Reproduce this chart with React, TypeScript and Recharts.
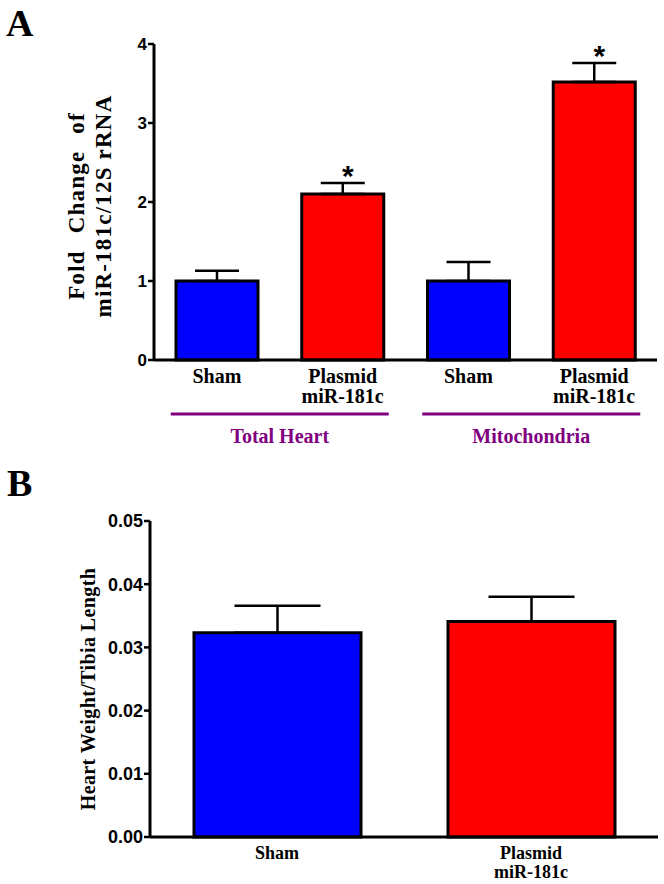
import { Bar, BarChart, Cell, ErrorBar, LabelList, XAxis, YAxis } from "recharts";

// panel A: fold change of miR-181c / 12S rRNA
const CATEGORIES_A = ["Sham", "Plasmid\nmiR-181c", "Sham", "Plasmid\nmiR-181c"];
const GROUPS_A = ["Total Heart", "Total Heart", "Mitochondria", "Mitochondria"];
const MEANS_A = [1.0, 2.1, 1.0, 3.52];
const ERRORS_A = [0.13, 0.14, 0.24, 0.24];
const SIG_A = ["", "*", "", "*"];
const TICKS_A = [0, 1, 2, 3, 4];

// panel B: heart weight / tibia length
const CATEGORIES_B = ["Sham", "Plasmid\nmiR-181c"];
const MEANS_B = [0.0323, 0.0341];
const ERRORS_B = [0.0043, 0.0039];
const TICKS_B = [0, 0.01, 0.02, 0.03, 0.04, 0.05];

const BAR_COLORS = ["#0000ff", "#ff0000"];
const PURPLE = "#800080";
const SERIF = "'Liberation Serif', 'Times New Roman', serif";
const SANS = "'Liberation Sans', Arial, sans-serif";

const dataA = CATEGORIES_A.map((name, i) => ({
  key: `${i}`,
  name,
  group: GROUPS_A[i],
  mean: MEANS_A[i],
  err: [0, ERRORS_A[i]],
  sig: SIG_A[i],
}));

const dataB = CATEGORIES_B.map((name, i) => ({
  key: `${i}`,
  name,
  mean: MEANS_B[i],
  err: [0, ERRORS_B[i]],
}));

function makeCatTick(labels: string[], fontSize: number, firstDy: number, lineGap: number) {
  return (props: any) => {
    const { x, y, index } = props;
    const lines = labels[index].split("\n");
    return (
      <text
        x={x}
        y={y}
        textAnchor="middle"
        fontFamily={SERIF}
        fontWeight="bold"
        fontSize={fontSize}
        fill="#000"
      >
        {lines.map((l, i) => (
          <tspan key={i} x={x} dy={i === 0 ? firstDy : lineGap}>
            {l}
          </tspan>
        ))}
      </text>
    );
  };
}

function GroupTick(props: any) {
  const { x, y, payload } = props;
  return (
    <g>
      <line x1={x - 109} x2={x + 109} y1={y + 4} y2={y + 4} stroke={PURPLE} strokeWidth={3} />
      <text
        x={x}
        y={y + 33}
        textAnchor="middle"
        fontFamily={SERIF}
        fontWeight="bold"
        fontSize={20}
        fill={PURPLE}
      >
        {payload.value}
      </text>
    </g>
  );
}

function FoldLabel(props: any) {
  const vb = props.viewBox;
  const cy = vb.y + vb.height / 2 + 4;
  const style = { fontFamily: SERIF, fontWeight: "bold" as const, fontSize: 23, letterSpacing: 1.2 };
  return (
    <g>
      <text
        transform={`translate(76, ${cy}) rotate(-90)`}
        textAnchor="middle"
        dominantBaseline="central"
        wordSpacing={10}
        style={style}
      >
        Fold Change of
      </text>
      <text
        transform={`translate(103, ${cy}) rotate(-90)`}
        textAnchor="middle"
        dominantBaseline="central"
        style={style}
      >
        miR-181c/12S rRNA
      </text>
    </g>
  );
}

function HwLabel(props: any) {
  const vb = props.viewBox;
  const cy = vb.y + vb.height / 2 + 10;
  return (
    <text
      transform={`translate(88, ${cy}) rotate(-90)`}
      textAnchor="middle"
      dominantBaseline="central"
      style={{ fontFamily: SERIF, fontWeight: "bold", fontSize: 20, letterSpacing: 0.4 }}
    >
      Heart Weight/Tibia Length
    </text>
  );
}

function Star(props: any) {
  const { x, y, width, height, index, value } = props;
  if (!value) return null;
  const d = dataA[index];
  const capY = Number(y) - (d.err[1] / d.mean) * Number(height);
  return (
    <text
      x={Number(x) + Number(width) / 2 + 5}
      y={capY + 3}
      textAnchor="middle"
      fontFamily={SANS}
      fontWeight="bold"
      fontSize={30}
      fill="#000"
    >
      {value}
    </text>
  );
}

const yTickA = { fontFamily: SANS, fontWeight: "bold", fontSize: 17, fill: "#000" };
const yTickB = { fontFamily: SANS, fontWeight: "bold", fontSize: 18, fill: "#000" };

function PanelLetter({ text, left, top }: { text: string; left: number; top: number }) {
  return (
    <svg width={40} height={44} style={{ position: "absolute", left, top }}>
      <text x={0} y={36} fontFamily={SERIF} fontWeight="bold" fontSize={38} fill="#000">
        {text}
      </text>
    </svg>
  );
}

export default function App() {
  return (
    <div style={{ position: "absolute", left: 0, top: 0, width: 664, height: 884, background: "#fff" }}>
      <div style={{ position: "absolute", left: 0, top: 0 }}>
        <BarChart width={664} height={470} data={dataA} margin={{ top: 44, right: 7, left: 0, bottom: 15 }}>
          <XAxis
            dataKey="key"
            height={50}
            axisLine={{ stroke: "#000", strokeWidth: 3 }}
            tickLine={false}
            tickSize={0}
            tickMargin={0}
            tick={makeCatTick(CATEGORIES_A, 20, 23, 20)}
            interval={0}
          />
          <XAxis
            xAxisId="group"
            dataKey="group"
            allowDuplicatedCategory={false}
            height={45}
            axisLine={false}
            tickLine={false}
            tickSize={0}
            tickMargin={0}
            tick={<GroupTick />}
            interval={0}
          />
          <YAxis
            width={154}
            domain={[0, 4]}
            ticks={TICKS_A}
            interval={0}
            axisLine={{ stroke: "#000", strokeWidth: 3 }}
            tickLine={{ stroke: "#000", strokeWidth: 2.5 }}
            tickSize={6}
            tickMargin={1}
            tick={yTickA}
            label={(p: any) => <FoldLabel {...p} />}
          />
          <Bar dataKey="mean" barSize={82} stroke="#000" strokeWidth={3} isAnimationActive={false}>
            {dataA.map((d, i) => (
              <Cell key={d.key} fill={BAR_COLORS[i % 2]} />
            ))}
            <ErrorBar dataKey="err" width={22} stroke="#000" strokeWidth={2.5} direction="y" />
            <LabelList dataKey="sig" content={(p: any) => <Star {...p} />} />
          </Bar>
        </BarChart>
      </div>

      <div style={{ position: "absolute", left: 0, top: 460 }}>
        <BarChart width={664} height={424} data={dataB} margin={{ top: 61, right: 6, left: 0, bottom: 5 }}>
          <XAxis
            dataKey="key"
            height={42}
            axisLine={{ stroke: "#000", strokeWidth: 3 }}
            tickLine={false}
            tickSize={0}
            tickMargin={0}
            tick={makeCatTick(CATEGORIES_B, 18, 22, 19)}
            interval={0}
          />
          <YAxis
            width={150}
            domain={[0, 0.05]}
            ticks={TICKS_B}
            interval={0}
            axisLine={{ stroke: "#000", strokeWidth: 3 }}
            tickLine={{ stroke: "#000", strokeWidth: 2.5 }}
            tickSize={6}
            tickMargin={1}
            tick={yTickB}
            tickFormatter={(v: number) => v.toFixed(2)}
            label={(p: any) => <HwLabel {...p} />}
          />
          <Bar dataKey="mean" barSize={167} stroke="#000" strokeWidth={3} isAnimationActive={false}>
            {dataB.map((d, i) => (
              <Cell key={d.key} fill={BAR_COLORS[i % 2]} />
            ))}
            <ErrorBar dataKey="err" width={43} stroke="#000" strokeWidth={2.5} direction="y" />
          </Bar>
        </BarChart>
      </div>

      <PanelLetter text="A" left={6} top={0} />
      <PanelLetter text="B" left={7} top={460} />
    </div>
  );
}
